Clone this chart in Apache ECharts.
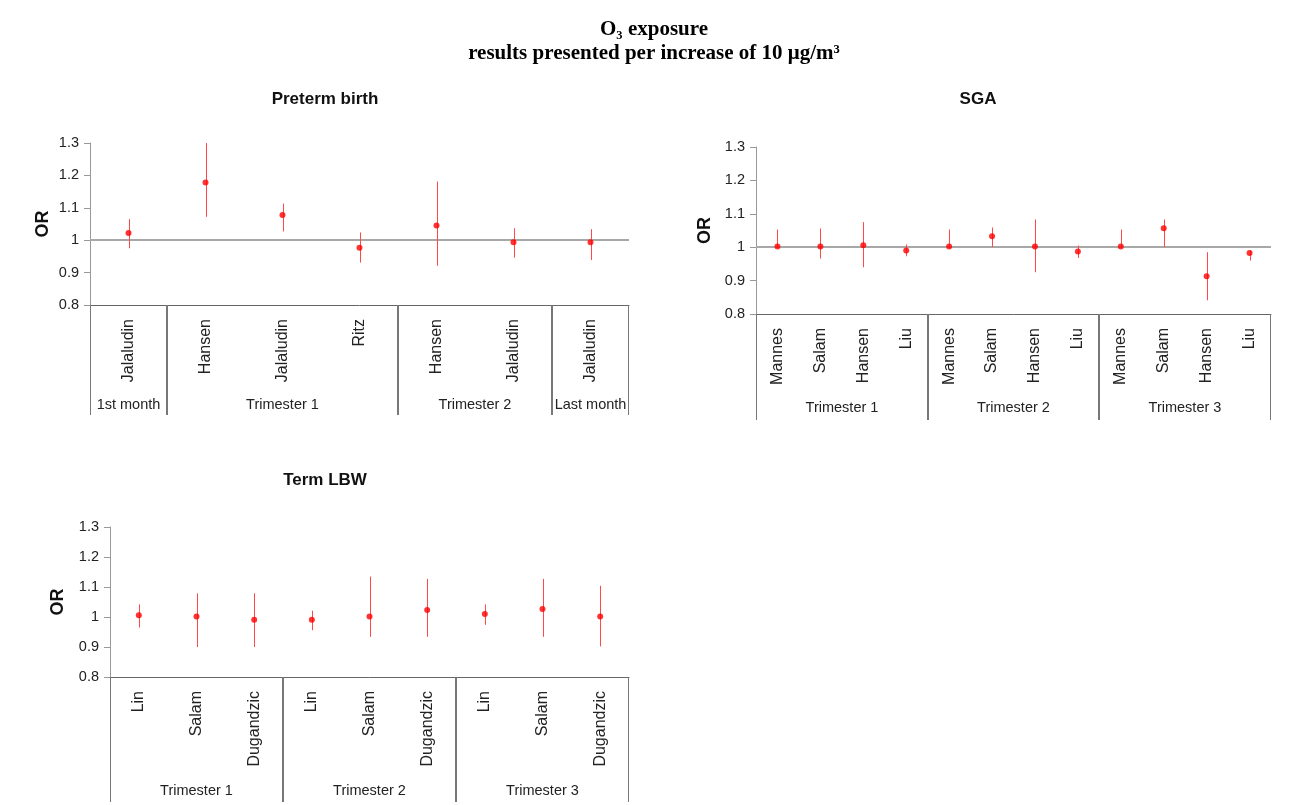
<!DOCTYPE html>
<html><head><meta charset="utf-8">
<script src="https://cdn.jsdelivr.net/npm/echarts@6/dist/echarts.min.js"></script>
<style>html,body{margin:0;padding:0;background:#fff}#c{width:1289px;height:805px}</style>
</head><body><div id="c"></div>
<script>
// ---- Data ----
const yTicks = [0.8, 0.9, 1.0, 1.1, 1.2, 1.3];

const pretermStudies = ['Jalaludin','Hansen','Jalaludin','Ritz','Hansen','Jalaludin','Jalaludin'];
const pretermPeriods = ['1st month','Trimester 1','Trimester 1','Trimester 1','Trimester 2','Trimester 2','Last month'];
const pretermOR  = [1.022, 1.178, 1.078, 0.977, 1.045, 0.994, 0.994];
const pretermLow = [0.975, 1.072, 1.027, 0.931, 0.921, 0.946, 0.939];
const pretermHigh= [1.065, 1.300, 1.113, 1.024, 1.181, 1.037, 1.034];

const sgaStudies = ['Mannes','Salam','Hansen','Liu','Mannes','Salam','Hansen','Liu','Mannes','Salam','Hansen','Liu'];
const sgaPeriods = ['Trimester 1','Trimester 1','Trimester 1','Trimester 1','Trimester 2','Trimester 2','Trimester 2','Trimester 2','Trimester 3','Trimester 3','Trimester 3','Trimester 3'];
const sgaOR   = [1.002, 1.002, 1.006, 0.990, 1.002, 1.033, 1.002, 0.987, 1.002, 1.057, 0.913, 0.983];
const sgaLow  = [0.998, 0.966, 0.940, 0.973, 0.998, 1.000, 0.925, 0.968, 0.998, 1.000, 0.841, 0.960];
const sgaHigh = [1.053, 1.056, 1.075, 1.008, 1.053, 1.059, 1.083, 1.005, 1.053, 1.083, 0.985, 0.991];

const lbwStudies = ['Lin','Salam','Dugandzic','Lin','Salam','Dugandzic','Lin','Salam','Dugandzic'];
const lbwPeriods = ['Trimester 1','Trimester 1','Trimester 1','Trimester 2','Trimester 2','Trimester 2','Trimester 3','Trimester 3','Trimester 3'];
const lbwOR   = [1.006, 1.002, 0.991, 0.991, 1.002, 1.023, 1.010, 1.027, 1.002];
const lbwLow  = [0.965, 0.900, 0.900, 0.956, 0.934, 0.934, 0.974, 0.934, 0.902];
const lbwHigh = [1.042, 1.079, 1.079, 1.021, 1.135, 1.127, 1.042, 1.127, 1.104];

// ---- Build ----
const FONT = 'Arial, "Liberation Sans", sans-serif';
function groupsOf(periods){
  const g=[]; periods.forEach((p,i)=>{ if(g.length && g[g.length-1].name===p) g[g.length-1].end=i; else g.push({name:p,start:i,end:i}); });
  return g;
}
const panels = [
  {title:'Preterm birth', studies:pretermStudies, periods:pretermPeriods, or:pretermOR, lo:pretermLow, hi:pretermHigh,
   grid:{left:90, top:143, width:539, height:162}, titleX:320, titleY:86, refLine:true, lineLen:110, labelOff:100, nameGap:38},
  {title:'SGA', studies:sgaStudies, periods:sgaPeriods, or:sgaOR, lo:sgaLow, hi:sgaHigh,
   grid:{left:756, top:147, width:515, height:167}, titleX:973, titleY:86, refLine:true, lineLen:106, labelOff:94, nameGap:42},
  {title:'Term LBW', studies:lbwStudies, periods:lbwPeriods, or:lbwOR, lo:lbwLow, hi:lbwHigh,
   grid:{left:110, top:527, width:519, height:150}, titleX:320, titleY:467, refLine:false, lineLen:125, labelOff:114, nameGap:43}
];

const option = {
  animation:false,
  backgroundColor:'#fff',
  title:[{
    text:'O\u2083 exposure\nresults presented per increase of 10 \u03bcg/m\u00b3',
    left:649, top:13, textAlign:'center',
    textStyle:{fontFamily:'"Liberation Serif", "Times New Roman", serif', fontWeight:'bold', fontSize:21, lineHeight:24, color:'#000'}
  }],
  grid:[], xAxis:[], yAxis:[], series:[]
};
panels.forEach((p,k)=>{
  option.title.push({text:p.title, left:p.titleX, top:p.titleY, textAlign:'center',
    textStyle:{fontFamily:FONT, fontWeight:'bold', fontSize:17, color:'#111'}});
  option.grid.push(Object.assign({containLabel:false}, p.grid));
  option.xAxis.push({type:'category', gridIndex:k, data:p.studies, boundaryGap:true,
    axisLine:{lineStyle:{color:'#666', width:1}}, axisTick:{show:false}, splitLine:{show:false},
    axisLabel:{rotate:90, margin:14, fontFamily:FONT, fontSize:16, color:'#222', interval:0}});
  option.yAxis.push({type:'value', gridIndex:k, min:0.8, max:1.3, interval:0.1,
    name:'OR', nameLocation:'middle', nameGap:p.nameGap, nameRotate:90,
    nameTextStyle:{fontFamily:FONT, fontWeight:'bold', fontSize:18, color:'#111'},
    axisLine:{show:true, lineStyle:{color:'#999', width:1}},
    axisTick:{show:true, length:6, lineStyle:{color:'#999'}},
    splitLine:{show:false},
    axisLabel:{fontFamily:FONT, fontSize:14.5, color:'#222', margin:11,
      formatter:v=>{const r=Math.round(v*10)/10; return yTicks.includes(r)? String(r):'';}}});
  // error bars
  option.series.push({type:'custom', xAxisIndex:k, yAxisIndex:k, clip:false, z:3,
    data:p.studies.map((s,i)=>[i, p.lo[i], p.hi[i]]),
    renderItem:(params, api)=>{
      const a=api.coord([api.value(0), api.value(1)]);
      const b=api.coord([api.value(0), api.value(2)]);
      return {type:'line', shape:{x1:Math.round(a[0])+0.5, y1:a[1], x2:Math.round(b[0])+0.5, y2:b[1]},
        style:{stroke:'#ff4848', lineWidth:1}};
    }});
  // points + reference line
  const sc = {type:'scatter', xAxisIndex:k, yAxisIndex:k, z:4, symbol:'circle', symbolSize:6,
    itemStyle:{color:'#ff0000'}, data:p.or};
  if(p.refLine){
    sc.markLine = {silent:true, symbol:'none', label:{show:false}, z:2,
      lineStyle:{color:'#a8a8a8', width:2, type:'solid'}, data:[{yAxis:1}]};
  }
  option.series.push(sc);
  // group separators and labels
  const groups = groupsOf(p.periods);
  option.series.push({type:'custom', xAxisIndex:k, yAxisIndex:k, clip:false, silent:true,
    data:groups.map(g=>[g.start, g.end]),
    renderItem:(params, api)=>{
      const g = groups[params.dataIndex];
      const band = api.size([1,0])[0];
      const a = api.coord([g.start, 0.8]), b = api.coord([g.end, 0.8]);
      const x0 = Math.round(a[0]-band/2)+0.5, x1 = Math.round(b[0]+band/2)-0.5, y=a[1];
      return {type:'group', children:[
        {type:'line', shape:{x1:x0, y1:y, x2:x0, y2:y+p.lineLen}, style:{stroke:'#777', lineWidth:1}},
        {type:'line', shape:{x1:x1, y1:y, x2:x1, y2:y+p.lineLen}, style:{stroke:'#777', lineWidth:1}},
        {type:'text', x:(x0+x1)/2, y:y+p.labelOff, style:{text:g.name, fill:'#222', font:'14.5px '+FONT, textAlign:'center', textVerticalAlign:'middle'}}
      ]};
    }});
});
const chart = echarts.init(document.getElementById('c'), null, {renderer:'canvas'});
chart.setOption(option);
</script></body></html>
